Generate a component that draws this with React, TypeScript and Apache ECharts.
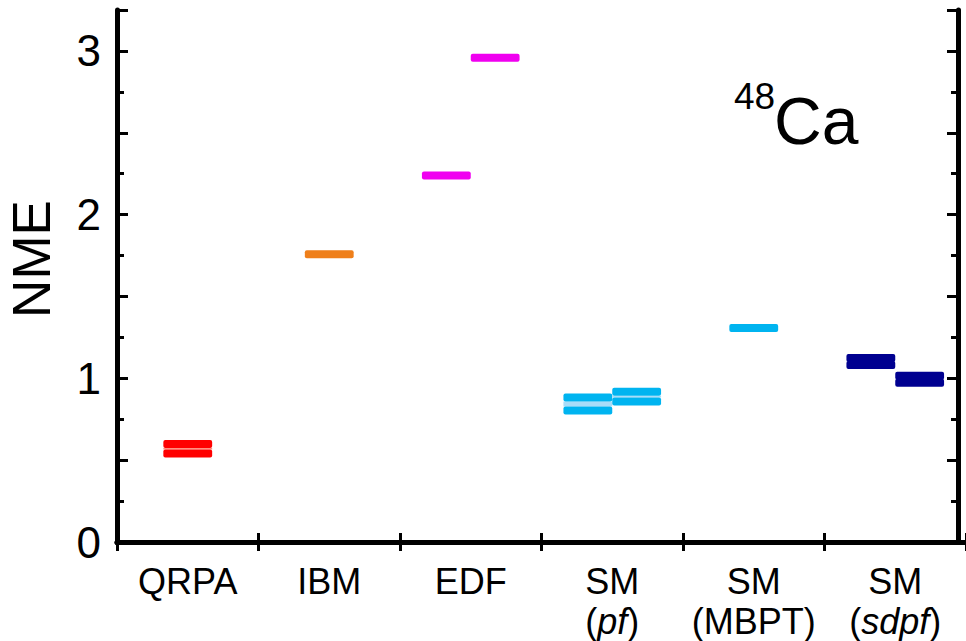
import React, { useEffect, useRef } from "react";
import * as echarts from "echarts";

// ---- data ----
const categories = ["QRPA", "IBM", "EDF", "SM\n(pf)", "SM\n(MBPT)", "SM\n(sdpf)"];
const italicParts = ["pf", "sdpf"];

// each entry: one calculation, drawn as its low/high ends
const entryCategory = [0, 1, 2, 2, 3, 3, 4, 5, 5];
const entryLow = [0.541, 1.758, 2.239, 2.958, 0.804, 0.858, 1.308, 1.082, 0.973];
const entryHigh = [0.598, 1.758, 2.239, 2.958, 0.882, 0.918, 1.308, 1.124, 1.015];
const entryColor = ["#ff0000", "#ef7f1a", "#f000f0", "#f000f0", "#00b4f0", "#00b4f0", "#00b4f0", "#000090", "#000090"];
const entryFill = ["#ff9080", "#ef7f1a", "#f000f0", "#f000f0", "#a8dcf8", "#a8dcf8", "#00b4f0", "#000090", "#000090"];

const yTickLabels = [0, 1, 2, 3];
const yAxisTitle = "NME";
const nucleusMass = "48";
const nucleusSymbol = "Ca";

const FONT = "'Liberation Sans', Arial, sans-serif";

function formatCategory(v: string): string {
  return v
    .split("\n")
    .map((line) => {
      for (const p of italicParts) {
        if (line === "(" + p + ")") return "{n|(}{i|" + p + "}{n|)}";
      }
      return "{n|" + line + "}";
    })
    .join("\n");
}

export default function App() {
  const ref = useRef<HTMLDivElement>(null);
  useEffect(() => {
    if (!ref.current) return;
    const chart = echarts.init(ref.current, undefined, { renderer: "svg" });

    const counts: Record<number, number> = {};
    entryCategory.forEach((c) => (counts[c] = (counts[c] || 0) + 1));
    const seen: Record<number, number> = {};
    const data = entryCategory.map((c, i) => {
      const k = seen[c] || 0;
      seen[c] = k + 1;
      const slot = counts[c] === 1 ? 0 : k === 0 ? -1 : 1;
      return [c, entryLow[i], entryHigh[i], slot, i];
    });

    const TH = 8;
    const renderItem = (params: any, api: any) => {
      const c = api.value(0);
      const lo = api.value(1);
      const hi = api.value(2);
      const slot = api.value(3);
      const idx = api.value(4);
      const center = api.coord([c, 0])[0];
      const band = api.size([1, 0])[0];
      const w = band * 0.345;
      const x0 = slot === 0 ? center - w / 2 : slot < 0 ? center - w : center;
      const yHi = api.coord([c, hi])[1];
      const yLo = api.coord([c, lo])[1];
      const children: any[] = [];
      const gapTop = yHi + TH / 2;
      const gapBot = yLo - TH / 2;
      if (gapBot > gapTop) {
        children.push({
          type: "rect",
          shape: { x: x0, y: gapTop, width: w, height: gapBot - gapTop },
          style: { fill: entryFill[idx] },
        });
      }
      children.push({
        type: "rect",
        shape: { x: x0, y: yHi - TH / 2, width: w, height: TH, r: 2 },
        style: { fill: entryColor[idx] },
      });
      if (hi !== lo) {
        children.push({
          type: "rect",
          shape: { x: x0, y: yLo - TH / 2, width: w, height: TH, r: 2 },
          style: { fill: entryColor[idx] },
        });
      }
      return { type: "group", children };
    };

    const axisLine = { show: true, lineStyle: { color: "#000", width: 5 } };
    const yBase = { type: "value", min: 0, max: 3.25, splitLine: { show: false } };

    chart.setOption({
      animation: false,
      grid: { left: 117, top: 10, width: 852, height: 538, containLabel: false },
      xAxis: [
        {
          type: "category",
          data: categories,
          boundaryGap: true,
          position: "bottom",
          axisLine,
          axisTick: { show: true, inside: true, length: 9, lineStyle: { color: "#000", width: 3 } },
          axisLabel: {
            interval: 0,
            margin: 19,
            color: "#000",
            fontFamily: FONT,
            fontSize: 36,
            lineHeight: 40,
            align: "center",
            formatter: (v: string) => formatCategory(v),
            rich: {
              n: { fontFamily: FONT, fontSize: 36, lineHeight: 40, color: "#000" },
              i: { fontFamily: FONT, fontSize: 36, lineHeight: 40, color: "#000", fontStyle: "italic" },
            },
          },
          splitLine: { show: false },
        },
        {
          type: "category",
          data: categories,
          boundaryGap: true,
          position: "top",
          axisLine,
          axisTick: { show: true, inside: true, length: 9, lineStyle: { color: "#000", width: 3 } },
          axisLabel: { show: false },
          splitLine: { show: false },
        },
      ],
      yAxis: [
        {
          ...yBase,
          position: "left",
          interval: 0.5,
          axisLine,
          axisTick: { show: true, inside: true, length: 11, lineStyle: { color: "#000", width: 3 } },
          axisLabel: {
            margin: 16,
            color: "#000",
            fontFamily: FONT,
            fontSize: 44,
            formatter: (v: number) => (yTickLabels.includes(v) ? String(v) : ""),
          },
        },
        {
          ...yBase,
          position: "left",
          interval: 0.25,
          axisLine: { show: false },
          axisTick: { show: true, inside: true, length: 7, lineStyle: { color: "#000", width: 3 } },
          axisLabel: { show: false },
        },
        {
          ...yBase,
          position: "right",
          offset: -8,
          interval: 0.5,
          axisLine,
          axisTick: { show: true, inside: true, length: 11, lineStyle: { color: "#000", width: 3 } },
          axisLabel: { show: false },
        },
        {
          ...yBase,
          position: "right",
          offset: -8,
          interval: 0.25,
          axisLine: { show: false },
          axisTick: { show: true, inside: true, length: 7, lineStyle: { color: "#000", width: 3 } },
          axisLabel: { show: false },
        },
      ],
      graphic: [
        {
          type: "text",
          x: 31,
          y: 259,
          rotation: Math.PI / 2,
          style: { text: yAxisTitle, fontFamily: FONT, fontSize: 53, fill: "#000", align: "center", verticalAlign: "middle" },
        },
        { type: "text", left: 734, top: 78, style: { text: nucleusMass, fontFamily: FONT, fontSize: 37, fill: "#000" } },
        { type: "text", left: 774, top: 88, style: { text: nucleusSymbol, fontFamily: FONT, fontSize: 66, fill: "#000" } },
      ],
      series: [{ type: "custom", xAxisIndex: 0, yAxisIndex: 0, renderItem, data, clip: false }],
    });
    return () => chart.dispose();
  }, []);
  return <div ref={ref} style={{ position: "fixed", left: 0, top: 0, width: 966, height: 641, background: "#fff" }} />;
}
